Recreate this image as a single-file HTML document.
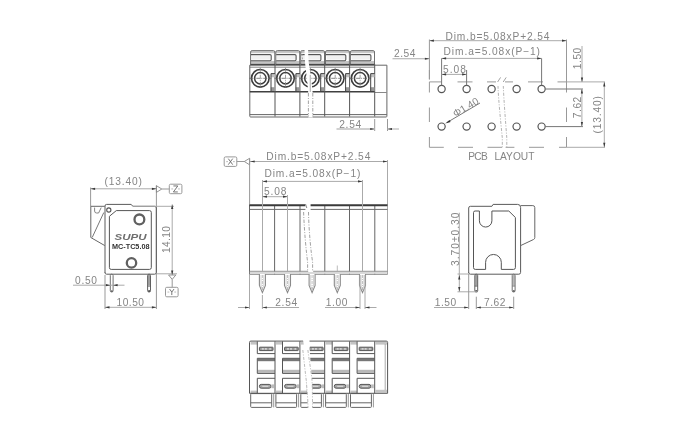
<!DOCTYPE html>
<html><head><meta charset="utf-8"><style>
html,body{margin:0;padding:0;background:#fff;overflow:hidden;}
svg{display:block;will-change:transform;}
text{font-family:"Liberation Sans",sans-serif;}
</style></head><body>
<svg width="680" height="440" viewBox="0 0 680 440">
<rect x="250.8" y="51" width="24.2" height="2.2" fill="#c8c8c8"/>
<rect x="250.8" y="61" width="24.2" height="2.6" fill="#c4c4c4"/>
<rect x="251.8" y="56" width="18.5" height="3.6" fill="#f0f0f0"/>
<path d="M250.6,64.5 V52 Q250.6,50.6 252.1,50.6 H273.5 Q274.8,50.6 274.8,52 V64.5" stroke="#707070" stroke-width="1" fill="none" />
<path d="M251.0,54.6 H270.0 Q271.2,54.6 271.2,55.8 V59.6 Q271.2,60.8 270.0,60.8 H251.0" stroke="#555" stroke-width="1.1" fill="none" />
<line x1="250.3" y1="64.4" x2="275.0" y2="64.4" stroke="#404040" stroke-width="1.3" />
<rect x="276.0" y="51" width="23.9" height="2.2" fill="#c8c8c8"/>
<rect x="276.0" y="61" width="23.9" height="2.6" fill="#c4c4c4"/>
<rect x="277.0" y="56" width="18.5" height="3.6" fill="#f0f0f0"/>
<path d="M275.8,64.5 V52 Q275.8,50.6 277.3,50.6 H298.4 Q299.7,50.6 299.7,52 V64.5" stroke="#707070" stroke-width="1" fill="none" />
<path d="M276.2,54.6 H294.9 Q296.1,54.6 296.1,55.8 V59.6 Q296.1,60.8 294.9,60.8 H276.2" stroke="#555" stroke-width="1.1" fill="none" />
<line x1="275.5" y1="64.4" x2="299.9" y2="64.4" stroke="#404040" stroke-width="1.3" />
<rect x="300.9" y="51" width="23.8" height="2.2" fill="#c8c8c8"/>
<rect x="300.9" y="61" width="23.8" height="2.6" fill="#c4c4c4"/>
<rect x="301.9" y="56" width="18.5" height="3.6" fill="#f0f0f0"/>
<path d="M300.7,64.5 V52 Q300.7,50.6 302.2,50.6 H323.2 Q324.5,50.6 324.5,52 V64.5" stroke="#707070" stroke-width="1" fill="none" />
<path d="M301.1,54.6 H319.7 Q320.9,54.6 320.9,55.8 V59.6 Q320.9,60.8 319.7,60.8 H301.1" stroke="#555" stroke-width="1.1" fill="none" />
<line x1="300.4" y1="64.4" x2="324.7" y2="64.4" stroke="#404040" stroke-width="1.3" />
<rect x="325.7" y="51" width="23.9" height="2.2" fill="#c8c8c8"/>
<rect x="325.7" y="61" width="23.9" height="2.6" fill="#c4c4c4"/>
<rect x="326.7" y="56" width="18.5" height="3.6" fill="#f0f0f0"/>
<path d="M325.5,64.5 V52 Q325.5,50.6 327.0,50.6 H348.1 Q349.4,50.6 349.4,52 V64.5" stroke="#707070" stroke-width="1" fill="none" />
<path d="M325.9,54.6 H344.6 Q345.8,54.6 345.8,55.8 V59.6 Q345.8,60.8 344.6,60.8 H325.9" stroke="#555" stroke-width="1.1" fill="none" />
<line x1="325.2" y1="64.4" x2="349.6" y2="64.4" stroke="#404040" stroke-width="1.3" />
<rect x="350.6" y="51" width="24.1" height="2.2" fill="#c8c8c8"/>
<rect x="350.6" y="61" width="24.1" height="2.6" fill="#c4c4c4"/>
<rect x="351.6" y="56" width="18.5" height="3.6" fill="#f0f0f0"/>
<path d="M350.4,64.5 V52 Q350.4,50.6 351.9,50.6 H373.2 Q374.5,50.6 374.5,52 V64.5" stroke="#707070" stroke-width="1" fill="none" />
<path d="M350.8,54.6 H369.7 Q370.9,54.6 370.9,55.8 V59.6 Q370.9,60.8 369.7,60.8 H350.8" stroke="#555" stroke-width="1.1" fill="none" />
<line x1="350.1" y1="64.4" x2="374.7" y2="64.4" stroke="#404040" stroke-width="1.3" />
<path d="M249.8,92 V65.2 H374.7" stroke="#5a5a5a" stroke-width="1" fill="none" />
<path d="M374.7,65.2 H386.9 V116.2 Q386.9,117 386.1,117 H250.6 Q249.8,117 249.8,116.2 V92" stroke="#666" stroke-width="1" fill="none" />
<line x1="249.8" y1="67.2" x2="374.7" y2="67.2" stroke="#777" stroke-width="0.9" />
<line x1="249.8" y1="91.8" x2="374.7" y2="91.8" stroke="#404040" stroke-width="1.4" />
<line x1="374.7" y1="92.5" x2="386.9" y2="92.5" stroke="#888" stroke-width="1" />
<line x1="249.8" y1="114.6" x2="386.9" y2="114.6" stroke="#666" stroke-width="1" />
<line x1="275.0" y1="64.4" x2="275.0" y2="116.5" stroke="#555" stroke-width="1" />
<line x1="299.9" y1="64.4" x2="299.9" y2="116.5" stroke="#555" stroke-width="1" />
<line x1="324.7" y1="64.4" x2="324.7" y2="116.5" stroke="#555" stroke-width="1" />
<line x1="349.6" y1="64.4" x2="349.6" y2="116.5" stroke="#555" stroke-width="1" />
<line x1="374.7" y1="64.4" x2="374.7" y2="116.5" stroke="#555" stroke-width="1" />
<circle cx="260.3" cy="78.3" r="8.8" stroke="#3c3c3c" stroke-width="1.6" fill="none" />
<circle cx="260.3" cy="78.3" r="5.7" stroke="#3c3c3c" stroke-width="1.5" fill="none" />
<line x1="249.3" y1="78.3" x2="271.3" y2="78.3" stroke="#666" stroke-width="0.8" stroke-dasharray="4 1 1 1"/>
<line x1="260.3" y1="67.8" x2="260.3" y2="88.8" stroke="#888" stroke-width="0.8" stroke-dasharray="4 1 1 1"/>
<rect x="270.8" y="73.8" width="4" height="3.5" fill="#c0c0c0"/>
<rect x="270.8" y="87.2" width="4" height="3.8" fill="#999"/>
<path d="M275.0,73.6 H271.0 V91.5" stroke="#444" stroke-width="1" fill="none" />
<circle cx="285.5" cy="78.3" r="8.8" stroke="#3c3c3c" stroke-width="1.6" fill="none" />
<circle cx="285.5" cy="78.3" r="5.7" stroke="#3c3c3c" stroke-width="1.5" fill="none" />
<line x1="274.5" y1="78.3" x2="296.5" y2="78.3" stroke="#666" stroke-width="0.8" stroke-dasharray="4 1 1 1"/>
<line x1="285.5" y1="67.8" x2="285.5" y2="88.8" stroke="#888" stroke-width="0.8" stroke-dasharray="4 1 1 1"/>
<rect x="295.7" y="73.8" width="4" height="3.5" fill="#c0c0c0"/>
<rect x="295.7" y="87.2" width="4" height="3.8" fill="#999"/>
<path d="M299.9,73.6 H295.9 V91.5" stroke="#444" stroke-width="1" fill="none" />
<circle cx="310.4" cy="78.3" r="8.8" stroke="#3c3c3c" stroke-width="1.6" fill="none" />
<circle cx="310.4" cy="78.3" r="5.7" stroke="#3c3c3c" stroke-width="1.5" fill="none" />
<line x1="299.4" y1="78.3" x2="321.4" y2="78.3" stroke="#666" stroke-width="0.8" stroke-dasharray="4 1 1 1"/>
<line x1="310.4" y1="67.8" x2="310.4" y2="88.8" stroke="#888" stroke-width="0.8" stroke-dasharray="4 1 1 1"/>
<rect x="320.5" y="73.8" width="4" height="3.5" fill="#c0c0c0"/>
<rect x="320.5" y="87.2" width="4" height="3.8" fill="#999"/>
<path d="M324.7,73.6 H320.7 V91.5" stroke="#444" stroke-width="1" fill="none" />
<circle cx="335.2" cy="78.3" r="8.8" stroke="#3c3c3c" stroke-width="1.6" fill="none" />
<circle cx="335.2" cy="78.3" r="5.7" stroke="#3c3c3c" stroke-width="1.5" fill="none" />
<line x1="324.2" y1="78.3" x2="346.2" y2="78.3" stroke="#666" stroke-width="0.8" stroke-dasharray="4 1 1 1"/>
<line x1="335.2" y1="67.8" x2="335.2" y2="88.8" stroke="#888" stroke-width="0.8" stroke-dasharray="4 1 1 1"/>
<rect x="345.4" y="73.8" width="4" height="3.5" fill="#c0c0c0"/>
<rect x="345.4" y="87.2" width="4" height="3.8" fill="#999"/>
<path d="M349.6,73.6 H345.6 V91.5" stroke="#444" stroke-width="1" fill="none" />
<circle cx="360.1" cy="78.3" r="8.8" stroke="#3c3c3c" stroke-width="1.6" fill="none" />
<circle cx="360.1" cy="78.3" r="5.7" stroke="#3c3c3c" stroke-width="1.5" fill="none" />
<line x1="349.1" y1="78.3" x2="371.1" y2="78.3" stroke="#666" stroke-width="0.8" stroke-dasharray="4 1 1 1"/>
<line x1="360.1" y1="67.8" x2="360.1" y2="88.8" stroke="#888" stroke-width="0.8" stroke-dasharray="4 1 1 1"/>
<rect x="370.5" y="73.8" width="4" height="3.5" fill="#c0c0c0"/>
<rect x="370.5" y="87.2" width="4" height="3.8" fill="#999"/>
<path d="M374.7,73.6 H370.7 V91.5" stroke="#444" stroke-width="1" fill="none" />
<path d="M304.5,49 C304.7,56 304.9,62 305.4,66 C306.2,74 307.8,84 308.2,92 L308.2,117.5 L312.8,117.5 L312.6,92 C312,84 310.6,74 309.2,66 C308.6,62 308.2,56 308.1,49 Z" stroke="none" stroke-width="0" fill="#fff" />
<path d="M301.5,51 L303,63" stroke="#aaa" stroke-width="1" fill="none" stroke-dasharray="2 1.2"/>
<path d="M308.4,93 V116.5" stroke="#999" stroke-width="0.9" fill="none" stroke-dasharray="3.5 1.5 1 1.5"/>
<path d="M312.8,93 V116.5" stroke="#999" stroke-width="0.9" fill="none" stroke-dasharray="3.5 1.5 1 1.5"/>
<line x1="310.3" y1="75" x2="310.3" y2="92" stroke="#bbb" stroke-width="1.2" />
<line x1="374.7" y1="119" x2="374.7" y2="131" stroke="#999" stroke-width="1" />
<line x1="387.5" y1="119" x2="387.5" y2="131" stroke="#999" stroke-width="1" />
<line x1="336.5" y1="129" x2="374.7" y2="129" stroke="#c0c0c0" stroke-width="1.3" />
<path d="M374.7,129 L370.2,127.9 L370.2,130.1 Z" fill="#3a3a3a"/>
<line x1="387.5" y1="129" x2="399" y2="129" stroke="#c0c0c0" stroke-width="1.3" />
<path d="M387.5,129 L392.0,127.9 L392.0,130.1 Z" fill="#3a3a3a"/>
<text x="339.2" y="127.6" font-size="10.2" fill="#858585" textLength="22" lengthAdjust="spacing" >2.54</text>
<circle cx="441.6" cy="89" r="3.6" stroke="#555" stroke-width="1.2" fill="none" />
<circle cx="466.6" cy="89" r="3.6" stroke="#555" stroke-width="1.2" fill="none" />
<circle cx="491.6" cy="89" r="3.6" stroke="#555" stroke-width="1.2" fill="none" />
<circle cx="516.6" cy="89" r="3.6" stroke="#555" stroke-width="1.2" fill="none" />
<circle cx="541.6" cy="89" r="3.6" stroke="#555" stroke-width="1.2" fill="none" />
<circle cx="441.6" cy="126.6" r="3.6" stroke="#555" stroke-width="1.2" fill="none" />
<circle cx="466.6" cy="126.6" r="3.6" stroke="#555" stroke-width="1.2" fill="none" />
<circle cx="491.6" cy="126.6" r="3.6" stroke="#555" stroke-width="1.2" fill="none" />
<circle cx="516.6" cy="126.6" r="3.6" stroke="#555" stroke-width="1.2" fill="none" />
<circle cx="541.6" cy="126.6" r="3.6" stroke="#555" stroke-width="1.2" fill="none" />
<line x1="429.4" y1="81.9" x2="441.6" y2="81.9" stroke="#999" stroke-width="1" />
<line x1="457.5" y1="81.9" x2="472.5" y2="81.9" stroke="#999" stroke-width="1" />
<line x1="487" y1="81.9" x2="496" y2="81.9" stroke="#999" stroke-width="1" />
<line x1="505" y1="81.9" x2="513" y2="81.9" stroke="#999" stroke-width="1" />
<line x1="528" y1="81.9" x2="543" y2="81.9" stroke="#999" stroke-width="1" />
<line x1="557.5" y1="81.9" x2="566.5" y2="81.9" stroke="#999" stroke-width="1" />
<line x1="566.5" y1="81.9" x2="605" y2="81.9" stroke="#aaa" stroke-width="1" />
<line x1="429.4" y1="147.3" x2="443.8" y2="147.3" stroke="#999" stroke-width="1" />
<line x1="458" y1="147.3" x2="473" y2="147.3" stroke="#999" stroke-width="1" />
<line x1="487.5" y1="147.3" x2="502" y2="147.3" stroke="#999" stroke-width="1" />
<line x1="505.6" y1="147.3" x2="514.4" y2="147.3" stroke="#999" stroke-width="1" />
<line x1="529" y1="147.3" x2="544" y2="147.3" stroke="#999" stroke-width="1" />
<line x1="559" y1="147.3" x2="566.5" y2="147.3" stroke="#999" stroke-width="1" />
<line x1="566.5" y1="147.3" x2="605" y2="147.3" stroke="#aaa" stroke-width="1" />
<line x1="429.4" y1="70" x2="429.4" y2="79.4" stroke="#999" stroke-width="1" />
<line x1="429.4" y1="81.9" x2="429.4" y2="92.5" stroke="#999" stroke-width="1" />
<line x1="429.4" y1="107.5" x2="429.4" y2="122" stroke="#999" stroke-width="1" />
<line x1="429.4" y1="137" x2="429.4" y2="147.3" stroke="#999" stroke-width="1" />
<line x1="429.4" y1="39.5" x2="429.4" y2="79.4" stroke="#999" stroke-width="1" />
<line x1="566.5" y1="39.5" x2="566.5" y2="92.5" stroke="#999" stroke-width="1" />
<line x1="566.5" y1="107.5" x2="566.5" y2="122" stroke="#999" stroke-width="1" />
<line x1="566.5" y1="137" x2="566.5" y2="147.3" stroke="#999" stroke-width="1" />
<path d="M497.6,82 L500.6,77.4" stroke="#999" stroke-width="0.9" fill="none" />
<path d="M503.2,82 L506.2,77.4" stroke="#999" stroke-width="0.9" fill="none" />
<path d="M498,86 C498.4,100 500.8,122 502.3,138 V147.3" stroke="#aaa" stroke-width="0.9" fill="none" stroke-dasharray="3 1.5 1 1.5"/>
<path d="M503.3,86 C503.8,100 505.6,122 506.8,138 V147.3" stroke="#aaa" stroke-width="0.9" fill="none" stroke-dasharray="3 1.5 1 1.5"/>
<line x1="392.5" y1="58.75" x2="429" y2="58.75" stroke="#aaa" stroke-width="1" />
<path d="M429.4,58.75 L424.9,57.65 L424.9,59.85 Z" fill="#3a3a3a"/>
<text x="394" y="57.4" font-size="10.2" fill="#858585" textLength="21.5" lengthAdjust="spacing" >2.54</text>
<line x1="429.4" y1="40.7" x2="566.5" y2="40.7" stroke="#aaa" stroke-width="1" />
<path d="M429.4,40.7 L433.9,39.6 L433.9,41.8 Z" fill="#3a3a3a"/>
<path d="M566.5,40.7 L562.0,39.6 L562.0,41.8 Z" fill="#3a3a3a"/>
<text x="445.5" y="39.7" font-size="10.2" fill="#858585" textLength="104" lengthAdjust="spacing" >Dim.b=5.08xP+2.54</text>
<line x1="441.6" y1="58.4" x2="541.6" y2="58.4" stroke="#aaa" stroke-width="1" />
<path d="M441.6,58.4 L446.1,57.3 L446.1,59.5 Z" fill="#3a3a3a"/>
<path d="M541.6,58.4 L537.1,57.3 L537.1,59.5 Z" fill="#3a3a3a"/>
<line x1="441.6" y1="58.4" x2="441.6" y2="85.4" stroke="#777" stroke-width="1" />
<line x1="541.6" y1="58.4" x2="541.6" y2="85.4" stroke="#777" stroke-width="1" />
<text x="443.6" y="55.2" font-size="10.2" fill="#858585" textLength="96.4" lengthAdjust="spacing" >Dim.a=5.08x(P−1)</text>
<line x1="441.6" y1="74.4" x2="466.6" y2="74.4" stroke="#aaa" stroke-width="1" />
<path d="M441.6,74.4 L446.1,73.3 L446.1,75.5 Z" fill="#3a3a3a"/>
<path d="M466.6,74.4 L462.1,73.3 L462.1,75.5 Z" fill="#3a3a3a"/>
<line x1="466.6" y1="70" x2="466.6" y2="85.4" stroke="#777" stroke-width="1" />
<text x="443" y="72.6" font-size="10.2" fill="#858585" textLength="23" lengthAdjust="spacing" >5.08</text>
<line x1="582" y1="46" x2="582" y2="81.9" stroke="#aaa" stroke-width="1" />
<path d="M582,81.9 L580.9,77.4 L583.1,77.4 Z" fill="#3a3a3a"/>
<text x="581.2" y="69.2" font-size="10.2" fill="#858585" textLength="21.5" lengthAdjust="spacing" transform="rotate(-90 581.2 69.2)" >1.50</text>
<line x1="545.2" y1="89" x2="583" y2="89" stroke="#777" stroke-width="1" />
<line x1="545.2" y1="126.6" x2="583" y2="126.6" stroke="#777" stroke-width="1" />
<line x1="581.9" y1="89" x2="581.9" y2="126.6" stroke="#aaa" stroke-width="1" />
<path d="M581.9,89 L580.8,93.5 L583.0,93.5 Z" fill="#3a3a3a"/>
<path d="M581.9,126.6 L580.8,122.1 L583.0,122.1 Z" fill="#3a3a3a"/>
<text x="581.2" y="118.2" font-size="10.2" fill="#858585" textLength="21.5" lengthAdjust="spacing" transform="rotate(-90 581.2 118.2)" >7.62</text>
<line x1="604.3" y1="81.9" x2="604.3" y2="147.3" stroke="#aaa" stroke-width="1" />
<path d="M604.3,81.9 L603.2,86.4 L605.4,86.4 Z" fill="#3a3a3a"/>
<path d="M604.3,147.3 L603.2,142.8 L605.4,142.8 Z" fill="#3a3a3a"/>
<text x="601.2" y="133.5" font-size="10.2" fill="#858585" textLength="37.5" lengthAdjust="spacing" transform="rotate(-90 601.2 133.5)" >(13.40)</text>
<line x1="480" y1="103" x2="447" y2="122.5" stroke="#555" stroke-width="0.8" />
<path d="M445.2,123.6 L449.5,120 L450.6,121.9 Z" fill="#333"/>
<text x="455.5" y="117.5" font-size="10.2" fill="#858585" textLength="28" lengthAdjust="spacing" transform="rotate(-31 455.5 117.5)" >Φ1.40</text>
<text x="468.2" y="160" font-size="10.2" fill="#858585" textLength="19.5" lengthAdjust="spacing" >PCB</text>
<text x="494.4" y="160" font-size="10.2" fill="#858585" textLength="40" lengthAdjust="spacing" >LAYOUT</text>
<rect x="224.2" y="156.9" width="12.6" height="9.5" rx="1.3" stroke="#999" stroke-width="1" fill="none" />
<line x1="226.2" y1="161.65" x2="228.0" y2="161.65" stroke="#aaa" stroke-width="0.8" />
<line x1="233.0" y1="161.65" x2="234.8" y2="161.65" stroke="#aaa" stroke-width="0.8" />
<path d="M228.3,158.65 L232.7,164.65 M232.7,158.65 L228.3,164.65" stroke="#666" stroke-width="0.9" fill="none" />
<line x1="236.8" y1="161.5" x2="244.3" y2="161.5" stroke="#999" stroke-width="1" />
<path d="M244.3,161.5 L249.6,158.3 L249.6,164.8 Z" stroke="#888" stroke-width="0.9" fill="none" />
<line x1="249.6" y1="158.3" x2="249.6" y2="205" stroke="#999" stroke-width="1" />
<line x1="249.5" y1="205" x2="249.5" y2="274.5" stroke="#666" stroke-width="1" />
<line x1="249.5" y1="275" x2="249.5" y2="309" stroke="#aaa" stroke-width="1" />
<line x1="387.5" y1="160" x2="387.5" y2="274.5" stroke="#aaa" stroke-width="1" />
<line x1="300" y1="205" x2="300" y2="274.5" stroke="#666" stroke-width="1" />
<line x1="324.8" y1="205" x2="324.8" y2="274.5" stroke="#666" stroke-width="1" />
<line x1="349.5" y1="205" x2="349.5" y2="274.5" stroke="#666" stroke-width="1" />
<line x1="374.8" y1="205" x2="374.8" y2="274.5" stroke="#666" stroke-width="1" />
<line x1="274.6" y1="205" x2="274.6" y2="274.5" stroke="#666" stroke-width="1" />
<line x1="249.5" y1="205.3" x2="387.5" y2="205.3" stroke="#3a3a3a" stroke-width="2" />
<line x1="249.5" y1="209.4" x2="387.5" y2="209.4" stroke="#6a6a6a" stroke-width="1" />
<line x1="249.5" y1="271.3" x2="387.5" y2="271.3" stroke="#888" stroke-width="1" />
<line x1="249.5" y1="274.3" x2="387.5" y2="274.3" stroke="#888" stroke-width="1" />
<line x1="250" y1="161.5" x2="387.5" y2="161.5" stroke="#aaa" stroke-width="1" />
<path d="M250.2,161.5 L254.7,160.4 L254.7,162.6 Z" fill="#3a3a3a"/>
<path d="M387.5,161.5 L383.0,160.4 L383.0,162.6 Z" fill="#3a3a3a"/>
<text x="266.3" y="160.4" font-size="10.2" fill="#858585" textLength="104" lengthAdjust="spacing" >Dim.b=5.08xP+2.54</text>
<line x1="262.5" y1="181.4" x2="362.5" y2="181.4" stroke="#aaa" stroke-width="1" />
<path d="M262.5,181.4 L267.0,180.3 L267.0,182.5 Z" fill="#3a3a3a"/>
<path d="M362.5,181.4 L358.0,180.3 L358.0,182.5 Z" fill="#3a3a3a"/>
<line x1="262.5" y1="180" x2="262.5" y2="271" stroke="#aaa" stroke-width="1" />
<line x1="362.5" y1="180" x2="362.5" y2="271" stroke="#aaa" stroke-width="1" />
<text x="264.4" y="177.4" font-size="10.2" fill="#858585" textLength="96" lengthAdjust="spacing" >Dim.a=5.08x(P−1)</text>
<line x1="262.5" y1="196.7" x2="287.5" y2="196.7" stroke="#aaa" stroke-width="1" />
<path d="M262.5,196.7 L267.0,195.6 L267.0,197.8 Z" fill="#3a3a3a"/>
<path d="M287.5,196.7 L283.0,195.6 L283.0,197.8 Z" fill="#3a3a3a"/>
<line x1="287.5" y1="195" x2="287.5" y2="271" stroke="#aaa" stroke-width="1" />
<text x="264" y="195" font-size="10.2" fill="#858585" textLength="22.5" lengthAdjust="spacing" >5.08</text>
<rect x="249.8" y="271.8" width="137.1" height="2.0" fill="#d8d8d8"/>
<path d="M305.3,203.5 C305.5,225 306.5,248 308.2,272 L313.2,272 C311.8,248 310.4,225 310.6,203.5 Z" stroke="none" stroke-width="0" fill="#fff" />
<path d="M305.5,204 L306.8,208" stroke="#888" stroke-width="1" fill="none" />
<path d="M303.6,212 C304.3,232 306.3,252 307.6,262 L307.6,271" stroke="#999" stroke-width="0.9" fill="none" stroke-dasharray="3.5 1.5 1 1.5"/>
<path d="M308.5,212 C308.9,232 311,252 312.6,262 L312.6,271" stroke="#999" stroke-width="0.9" fill="none" stroke-dasharray="3.5 1.5 1 1.5"/>
<path d="M259.4,274 V285.5 L262.4,292.6 L265.4,285.5 V274" stroke="#8a8a8a" stroke-width="1.1" fill="#fff" />
<path d="M261.0,275 V286 L262.4,289.5 L263.8,286 V275" stroke="#c8c8c8" stroke-width="0.8" fill="none" />
<line x1="262.4" y1="275" x2="262.4" y2="291" stroke="#aaa" stroke-width="0.7" stroke-dasharray="3 1 1 1"/>
<path d="M284.5,274 V285.5 L287.5,292.6 L290.5,285.5 V274" stroke="#8a8a8a" stroke-width="1.1" fill="#fff" />
<path d="M286.1,275 V286 L287.5,289.5 L288.9,286 V275" stroke="#c8c8c8" stroke-width="0.8" fill="none" />
<line x1="287.5" y1="275" x2="287.5" y2="291" stroke="#aaa" stroke-width="0.7" stroke-dasharray="3 1 1 1"/>
<path d="M309.1,274 V285.5 L312.1,292.6 L315.1,285.5 V274" stroke="#8a8a8a" stroke-width="1.1" fill="#fff" />
<path d="M310.7,275 V286 L312.1,289.5 L313.5,286 V275" stroke="#c8c8c8" stroke-width="0.8" fill="none" />
<line x1="312.1" y1="275" x2="312.1" y2="291" stroke="#aaa" stroke-width="0.7" stroke-dasharray="3 1 1 1"/>
<path d="M334.3,274 V285.5 L337.3,292.6 L340.3,285.5 V274" stroke="#8a8a8a" stroke-width="1.1" fill="#fff" />
<path d="M335.9,275 V286 L337.3,289.5 L338.7,286 V275" stroke="#c8c8c8" stroke-width="0.8" fill="none" />
<line x1="337.3" y1="275" x2="337.3" y2="291" stroke="#aaa" stroke-width="0.7" stroke-dasharray="3 1 1 1"/>
<path d="M359.5,274 V285.5 L362.5,292.6 L365.5,285.5 V274" stroke="#8a8a8a" stroke-width="1.1" fill="#fff" />
<path d="M361.1,275 V286 L362.5,289.5 L363.9,286 V275" stroke="#c8c8c8" stroke-width="0.8" fill="none" />
<line x1="362.5" y1="275" x2="362.5" y2="291" stroke="#aaa" stroke-width="0.7" stroke-dasharray="3 1 1 1"/>
<line x1="337.3" y1="265.5" x2="337.3" y2="271" stroke="#aaa" stroke-width="0.8" />
<line x1="238" y1="307.5" x2="249.5" y2="307.5" stroke="#aaa" stroke-width="1" />
<path d="M249.5,307.5 L245.0,306.4 L245.0,308.6 Z" fill="#3a3a3a"/>
<line x1="262.4" y1="295" x2="262.4" y2="309" stroke="#aaa" stroke-width="1" />
<line x1="262.4" y1="307.5" x2="299" y2="307.5" stroke="#aaa" stroke-width="1" />
<path d="M262.4,307.5 L266.9,306.4 L266.9,308.6 Z" fill="#3a3a3a"/>
<text x="275.2" y="306.3" font-size="10.2" fill="#858585" textLength="22" lengthAdjust="spacing" >2.54</text>
<line x1="360" y1="275" x2="360" y2="309" stroke="#aaa" stroke-width="1" />
<line x1="365" y1="275" x2="365" y2="309" stroke="#aaa" stroke-width="1" />
<line x1="325" y1="307.5" x2="360" y2="307.5" stroke="#aaa" stroke-width="1" />
<path d="M360,307.5 L355.5,306.4 L355.5,308.6 Z" fill="#3a3a3a"/>
<line x1="365" y1="307.5" x2="376.5" y2="307.5" stroke="#aaa" stroke-width="1" />
<path d="M365,307.5 L369.5,306.4 L369.5,308.6 Z" fill="#3a3a3a"/>
<text x="325.8" y="306.3" font-size="10.2" fill="#858585" textLength="21.5" lengthAdjust="spacing" >1.00</text>
<line x1="90.6" y1="187.5" x2="90.6" y2="206.3" stroke="#999" stroke-width="1" />
<line x1="156.4" y1="185.5" x2="156.4" y2="309" stroke="#999" stroke-width="1" />
<line x1="90.6" y1="188.8" x2="156.4" y2="188.8" stroke="#aaa" stroke-width="1" />
<path d="M90.6,188.8 L95.1,187.7 L95.1,189.9 Z" fill="#3a3a3a"/>
<path d="M156.4,188.8 L151.9,187.7 L151.9,189.9 Z" fill="#3a3a3a"/>
<text x="104.5" y="185.2" font-size="10.2" fill="#858585" textLength="37.5" lengthAdjust="spacing" >(13.40)</text>
<path d="M156.4,185.7 L161.8,189 L156.4,192.4 Z" stroke="#888" stroke-width="0.9" fill="none" />
<line x1="161.8" y1="189" x2="169.3" y2="189" stroke="#999" stroke-width="1" />
<rect x="169.3" y="184.2" width="12.6" height="9.5" rx="1.3" stroke="#999" stroke-width="1" fill="none" />
<line x1="171.3" y1="188.95" x2="173.1" y2="188.95" stroke="#aaa" stroke-width="0.8" />
<line x1="178.1" y1="188.95" x2="179.9" y2="188.95" stroke="#aaa" stroke-width="0.8" />
<path d="M173.4,185.95 H177.8 L173.4,191.95 H177.8" stroke="#666" stroke-width="0.9" fill="none" />
<path d="M105,273 V206 Q105,204.4 106.6,204.4 H131.2 L132.8,206.3 H154.6 Q156.3,206.3 156.3,208 V272.4 Q156.3,274.2 154.6,274.2 H106.6 Q105,274.2 105,272.4" stroke="#5a5a5a" stroke-width="1" fill="none" />
<line x1="133" y1="206.3" x2="174" y2="206.3" stroke="#aaa" stroke-width="1" />
<line x1="156.4" y1="273.8" x2="177" y2="273.8" stroke="#aaa" stroke-width="1" />
<path d="M104.8,206.3 H90.8 V237.5 L104.8,245.6" stroke="#666" stroke-width="1" fill="none" />
<path d="M103.8,212.5 L92.2,237.5" stroke="#777" stroke-width="1" fill="none" />
<path d="M94.6,207.6 V211 Q94.6,213 96.6,213 H98.6 L101.2,207.6" stroke="#777" stroke-width="0.9" fill="none" />
<circle cx="108.8" cy="210" r="2.1" stroke="#555" stroke-width="1.1" fill="none" />
<path d="M109.4,216.3 L116.3,210.6 H149.5 Q151.3,210.6 151.3,212.4 V267.6 Q151.3,269.4 149.5,269.4 H111.2 Q109.4,269.4 109.4,267.6 Z" stroke="#555" stroke-width="1" fill="none" />
<circle cx="139.4" cy="219.4" r="4.9" stroke="#606060" stroke-width="2.3" fill="none" />
<circle cx="131.5" cy="262.9" r="4.7" stroke="#606060" stroke-width="2.3" fill="none" />
<text x="114.5" y="240" font-size="8.6" font-weight="bold" font-style="italic" fill="#6e6e6e" textLength="32" lengthAdjust="spacingAndGlyphs" transform="translate(0,0)">SUPU</text>
<text x="112" y="249" font-size="7.6" font-weight="bold" fill="#333" textLength="37.5" lengthAdjust="spacingAndGlyphs">MC-TC5.08</text>
<rect x="110.3" y="274.2" width="2.8" height="17.8" rx="1.3" stroke="#707070" stroke-width="1" fill="none" />
<rect x="147.8" y="274.6" width="2.4" height="10.4" fill="#a0a0a0"/>
<rect x="147.6" y="274.2" width="2.9" height="17.8" rx="1.3" stroke="#606060" stroke-width="1" fill="none" />
<line x1="147.6" y1="286" x2="150.5" y2="286" stroke="#555" stroke-width="1" />
<rect x="148.2" y="290.2" width="2" height="1.6" fill="#444"/>
<rect x="110.8" y="290.4" width="1.9" height="1.4" fill="#555"/>
<line x1="73" y1="285.2" x2="124.5" y2="285.2" stroke="#aaa" stroke-width="1" />
<path d="M110.3,285.2 L105.8,284.1 L105.8,286.3 Z" fill="#3a3a3a"/>
<path d="M113.1,285.2 L117.6,284.1 L117.6,286.3 Z" fill="#3a3a3a"/>
<text x="75" y="283.6" font-size="10.2" fill="#858585" textLength="22" lengthAdjust="spacing" >0.50</text>
<line x1="105" y1="275" x2="105" y2="309" stroke="#999" stroke-width="1" />
<line x1="105" y1="307.3" x2="156.4" y2="307.3" stroke="#aaa" stroke-width="1" />
<path d="M105,307.3 L109.5,306.2 L109.5,308.4 Z" fill="#3a3a3a"/>
<path d="M156.4,307.3 L151.9,306.2 L151.9,308.4 Z" fill="#3a3a3a"/>
<text x="116.5" y="306" font-size="10.2" fill="#858585" textLength="27.5" lengthAdjust="spacing" >10.50</text>
<line x1="172.2" y1="204.4" x2="172.2" y2="275" stroke="#aaa" stroke-width="1" />
<path d="M172.2,204.6 L171.1,209.1 L173.3,209.1 Z" fill="#3a3a3a"/>
<path d="M172.2,275 L171.1,270.5 L173.3,270.5 Z" fill="#3a3a3a"/>
<text x="170.2" y="253" font-size="10.2" fill="#858585" textLength="27" lengthAdjust="spacing" transform="rotate(-90 170.2 253)" >14.10</text>
<path d="M168.6,275 L175.8,275 L172.2,279.4 Z" stroke="#888" stroke-width="0.9" fill="none" />
<line x1="172.2" y1="279.4" x2="172.2" y2="287.3" stroke="#999" stroke-width="1" />
<rect x="165.5" y="287.3" width="12.6" height="9.5" rx="1.3" stroke="#999" stroke-width="1" fill="none" />
<line x1="167.5" y1="292.05" x2="169.3" y2="292.05" stroke="#aaa" stroke-width="0.8" />
<line x1="174.3" y1="292.05" x2="176.1" y2="292.05" stroke="#aaa" stroke-width="0.8" />
<path d="M169.6,289.05 L171.8,292.05 L174.0,289.05 M171.8,292.05 V295.05" stroke="#666" stroke-width="0.9" fill="none" />
<path d="M468.7,273 V208 Q468.7,206.3 470.4,206.3 H491.9 L493.1,204.4 H517.6 Q520.6,204.4 520.6,207.4 V272.4 Q520.6,274.2 518.8,274.2 H470.4 Q468.7,274.2 468.7,272.4" stroke="#5a5a5a" stroke-width="1" fill="none" />
<path d="M520.6,205.6 H532.8 Q534.8,205.6 534.8,207.6 V237.6 Q534.8,239 533.5,239.5 L520.6,245.6" stroke="#666" stroke-width="1" fill="none" />
<path d="M473.5,267.6 V212.6 Q473.5,211 475.1,211 H479.4 V220.8 A6.25,6.25 0 0 0 491.9,220.8 V211 H508.8 L515.4,217.5 V267.6 Q515.4,269.4 513.6,269.4 H501.3 V262.3 A7.85,7.85 0 0 0 485.6,262.3 V269.4 H475.3 Q473.5,269.4 473.5,267.6 Z" stroke="#555" stroke-width="1" fill="none" />
<rect x="475.2" y="274.6" width="2.4" height="10.8" fill="#a0a0a0"/>
<rect x="474.8" y="274.2" width="2.9" height="17.8" rx="1.3" stroke="#606060" stroke-width="1" fill="none" />
<line x1="474.8" y1="286" x2="477.7" y2="286" stroke="#555" stroke-width="1" />
<rect x="475.3" y="290.2" width="2" height="1.6" fill="#444"/>
<rect x="512.6" y="274.6" width="2.2" height="10.8" fill="#b8b8b8"/>
<rect x="512.2" y="274.2" width="2.9" height="17.8" rx="1.3" stroke="#707070" stroke-width="1" fill="none" />
<line x1="512.2" y1="286" x2="515.1" y2="286" stroke="#777" stroke-width="1" />
<rect x="512.7" y="290.2" width="2" height="1.6" fill="#555"/>
<line x1="457.5" y1="274" x2="468.7" y2="274" stroke="#aaa" stroke-width="1" />
<line x1="457.5" y1="291.8" x2="477.5" y2="291.8" stroke="#aaa" stroke-width="1" />
<line x1="459.3" y1="212.7" x2="459.3" y2="291.8" stroke="#aaa" stroke-width="1" />
<path d="M459.3,275 L458.2,279.5 L460.4,279.5 Z" fill="#3a3a3a"/>
<path d="M459.3,291.5 L458.2,287.0 L460.4,287.0 Z" fill="#3a3a3a"/>
<text x="458.6" y="266" font-size="10.2" fill="#858585" textLength="53.5" lengthAdjust="spacing" transform="rotate(-90 458.6 266)" >3.70±0.30</text>
<line x1="468.7" y1="274" x2="468.7" y2="309" stroke="#999" stroke-width="1" />
<line x1="434" y1="307.5" x2="468.7" y2="307.5" stroke="#aaa" stroke-width="1" />
<path d="M468.7,307.5 L464.2,306.4 L464.2,308.6 Z" fill="#3a3a3a"/>
<text x="434.7" y="306.2" font-size="10.2" fill="#858585" textLength="21.5" lengthAdjust="spacing" >1.50</text>
<line x1="476.3" y1="296.7" x2="476.3" y2="309" stroke="#999" stroke-width="1" />
<line x1="513.7" y1="296.7" x2="513.7" y2="309" stroke="#999" stroke-width="1" />
<line x1="476.3" y1="307.5" x2="513.7" y2="307.5" stroke="#aaa" stroke-width="1" />
<path d="M476.3,307.5 L480.8,306.4 L480.8,308.6 Z" fill="#3a3a3a"/>
<path d="M513.7,307.5 L509.2,306.4 L509.2,308.6 Z" fill="#3a3a3a"/>
<text x="484" y="306.2" font-size="10.2" fill="#858585" textLength="21.5" lengthAdjust="spacing" >7.62</text>
<rect x="250.6" y="342" width="6.6" height="2.6" fill="#c4c4c4"/>
<rect x="250.6" y="390.6" width="6.6" height="2.6" fill="#c4c4c4"/>
<rect x="257.6" y="358.6" width="17.4" height="2.6" fill="#777"/>
<rect x="257.6" y="369.8" width="17.4" height="3.0" fill="#b8b8b8"/>
<path d="M257.3,341.3 V353.6 H275.0" stroke="#555" stroke-width="1" fill="none" />
<path d="M275.0,358.3 H257.3 V373.4 H275.0" stroke="#555" stroke-width="1" fill="none" />
<path d="M275.0,378.3 H257.3 V393" stroke="#555" stroke-width="1" fill="none" />
<rect x="259.4" y="347.2" width="13.6" height="3.4" rx="0.4" stroke="#555" stroke-width="1" fill="#9a9a9a" />
<rect x="261.8" y="348.2" width="2" height="1.4" fill="#ddd"/>
<rect x="264.8" y="348.2" width="2" height="1.4" fill="#ddd"/>
<rect x="269.3" y="348.2" width="1.6" height="1.4" fill="#ddd"/>
<rect x="259.4" y="384.4" width="11.6" height="3.8" rx="1.8" stroke="#555" stroke-width="1" fill="#a8a8a8" />
<rect x="262.3" y="385.8" width="6" height="1" fill="#e0e0e0"/>
<rect x="271.4" y="384.4" width="2.6" height="3.8" fill="#bbb"/>
<line x1="275.0" y1="341.3" x2="275.0" y2="393.3" stroke="#555" stroke-width="1" />
<rect x="250.7" y="393.6" width="21" height="13.8" rx="0.8" stroke="#666" stroke-width="1" fill="none" />
<line x1="250.7" y1="402.8" x2="271.7" y2="402.8" stroke="#666" stroke-width="1" />
<line x1="273.7" y1="393.6" x2="273.7" y2="407.4" stroke="#999" stroke-width="1" />
<rect x="275.8" y="342" width="6.6" height="2.6" fill="#c4c4c4"/>
<rect x="275.8" y="390.6" width="6.6" height="2.6" fill="#c4c4c4"/>
<rect x="282.8" y="358.6" width="17.1" height="2.6" fill="#777"/>
<rect x="282.8" y="369.8" width="17.1" height="3.0" fill="#b8b8b8"/>
<path d="M282.5,341.3 V353.6 H299.9" stroke="#555" stroke-width="1" fill="none" />
<path d="M299.9,358.3 H282.5 V373.4 H299.9" stroke="#555" stroke-width="1" fill="none" />
<path d="M299.9,378.3 H282.5 V393" stroke="#555" stroke-width="1" fill="none" />
<rect x="284.6" y="347.2" width="13.6" height="3.4" rx="0.4" stroke="#555" stroke-width="1" fill="#9a9a9a" />
<rect x="287.0" y="348.2" width="2" height="1.4" fill="#ddd"/>
<rect x="290.0" y="348.2" width="2" height="1.4" fill="#ddd"/>
<rect x="294.5" y="348.2" width="1.6" height="1.4" fill="#ddd"/>
<rect x="284.6" y="384.4" width="11.6" height="3.8" rx="1.8" stroke="#555" stroke-width="1" fill="#a8a8a8" />
<rect x="287.5" y="385.8" width="6" height="1" fill="#e0e0e0"/>
<rect x="296.6" y="384.4" width="2.6" height="3.8" fill="#bbb"/>
<line x1="299.9" y1="341.3" x2="299.9" y2="393.3" stroke="#555" stroke-width="1" />
<rect x="275.9" y="393.6" width="20.7" height="13.8" rx="0.8" stroke="#666" stroke-width="1" fill="none" />
<line x1="275.9" y1="402.8" x2="296.6" y2="402.8" stroke="#666" stroke-width="1" />
<line x1="298.6" y1="393.6" x2="298.6" y2="407.4" stroke="#999" stroke-width="1" />
<rect x="300.7" y="342" width="6.6" height="2.6" fill="#c4c4c4"/>
<rect x="300.7" y="390.6" width="6.6" height="2.6" fill="#c4c4c4"/>
<rect x="307.7" y="358.6" width="17" height="2.6" fill="#777"/>
<rect x="307.7" y="369.8" width="17" height="3.0" fill="#b8b8b8"/>
<path d="M307.4,341.3 V353.6 H324.7" stroke="#555" stroke-width="1" fill="none" />
<path d="M324.7,358.3 H307.4 V373.4 H324.7" stroke="#555" stroke-width="1" fill="none" />
<path d="M324.7,378.3 H307.4 V393" stroke="#555" stroke-width="1" fill="none" />
<rect x="309.5" y="347.2" width="13.6" height="3.4" rx="0.4" stroke="#555" stroke-width="1" fill="#9a9a9a" />
<rect x="311.9" y="348.2" width="2" height="1.4" fill="#ddd"/>
<rect x="314.9" y="348.2" width="2" height="1.4" fill="#ddd"/>
<rect x="319.4" y="348.2" width="1.6" height="1.4" fill="#ddd"/>
<rect x="309.5" y="384.4" width="11.6" height="3.8" rx="1.8" stroke="#555" stroke-width="1" fill="#a8a8a8" />
<rect x="312.4" y="385.8" width="6" height="1" fill="#e0e0e0"/>
<rect x="321.5" y="384.4" width="2.6" height="3.8" fill="#bbb"/>
<line x1="324.7" y1="341.3" x2="324.7" y2="393.3" stroke="#555" stroke-width="1" />
<rect x="300.8" y="393.6" width="20.6" height="13.8" rx="0.8" stroke="#666" stroke-width="1" fill="none" />
<line x1="300.8" y1="402.8" x2="321.4" y2="402.8" stroke="#666" stroke-width="1" />
<line x1="323.4" y1="393.6" x2="323.4" y2="407.4" stroke="#999" stroke-width="1" />
<rect x="325.5" y="342" width="6.6" height="2.6" fill="#c4c4c4"/>
<rect x="325.5" y="390.6" width="6.6" height="2.6" fill="#c4c4c4"/>
<rect x="332.5" y="358.6" width="17.1" height="2.6" fill="#777"/>
<rect x="332.5" y="369.8" width="17.1" height="3.0" fill="#b8b8b8"/>
<path d="M332.2,341.3 V353.6 H349.6" stroke="#555" stroke-width="1" fill="none" />
<path d="M349.6,358.3 H332.2 V373.4 H349.6" stroke="#555" stroke-width="1" fill="none" />
<path d="M349.6,378.3 H332.2 V393" stroke="#555" stroke-width="1" fill="none" />
<rect x="334.3" y="347.2" width="13.6" height="3.4" rx="0.4" stroke="#555" stroke-width="1" fill="#9a9a9a" />
<rect x="336.7" y="348.2" width="2" height="1.4" fill="#ddd"/>
<rect x="339.7" y="348.2" width="2" height="1.4" fill="#ddd"/>
<rect x="344.2" y="348.2" width="1.6" height="1.4" fill="#ddd"/>
<rect x="334.3" y="384.4" width="11.6" height="3.8" rx="1.8" stroke="#555" stroke-width="1" fill="#a8a8a8" />
<rect x="337.2" y="385.8" width="6" height="1" fill="#e0e0e0"/>
<rect x="346.3" y="384.4" width="2.6" height="3.8" fill="#bbb"/>
<line x1="349.6" y1="341.3" x2="349.6" y2="393.3" stroke="#555" stroke-width="1" />
<rect x="325.6" y="393.6" width="20.7" height="13.8" rx="0.8" stroke="#666" stroke-width="1" fill="none" />
<line x1="325.6" y1="402.8" x2="346.3" y2="402.8" stroke="#666" stroke-width="1" />
<line x1="348.3" y1="393.6" x2="348.3" y2="407.4" stroke="#999" stroke-width="1" />
<rect x="350.4" y="342" width="6.6" height="2.6" fill="#c4c4c4"/>
<rect x="350.4" y="390.6" width="6.6" height="2.6" fill="#c4c4c4"/>
<rect x="357.4" y="358.6" width="17.3" height="2.6" fill="#777"/>
<rect x="357.4" y="369.8" width="17.3" height="3.0" fill="#b8b8b8"/>
<path d="M357.1,341.3 V353.6 H374.7" stroke="#555" stroke-width="1" fill="none" />
<path d="M374.7,358.3 H357.1 V373.4 H374.7" stroke="#555" stroke-width="1" fill="none" />
<path d="M374.7,378.3 H357.1 V393" stroke="#555" stroke-width="1" fill="none" />
<rect x="359.2" y="347.2" width="13.6" height="3.4" rx="0.4" stroke="#555" stroke-width="1" fill="#9a9a9a" />
<rect x="361.6" y="348.2" width="2" height="1.4" fill="#ddd"/>
<rect x="364.6" y="348.2" width="2" height="1.4" fill="#ddd"/>
<rect x="369.1" y="348.2" width="1.6" height="1.4" fill="#ddd"/>
<rect x="359.2" y="384.4" width="11.6" height="3.8" rx="1.8" stroke="#555" stroke-width="1" fill="#a8a8a8" />
<rect x="362.1" y="385.8" width="6" height="1" fill="#e0e0e0"/>
<rect x="371.2" y="384.4" width="2.6" height="3.8" fill="#bbb"/>
<line x1="374.7" y1="341.3" x2="374.7" y2="393.3" stroke="#555" stroke-width="1" />
<rect x="350.5" y="393.6" width="20.9" height="13.8" rx="0.8" stroke="#666" stroke-width="1" fill="none" />
<line x1="350.5" y1="402.8" x2="371.4" y2="402.8" stroke="#666" stroke-width="1" />
<line x1="373.4" y1="393.6" x2="373.4" y2="407.4" stroke="#999" stroke-width="1" />
<rect x="375.2" y="341.8" width="11.8" height="2.8" fill="#c4c4c4"/>
<rect x="375.2" y="389.8" width="11.8" height="2.8" fill="#c4c4c4"/>
<line x1="385.2" y1="344" x2="385.2" y2="390" stroke="#aaa" stroke-width="1" />
<path d="M249.5,393.3 V342.4 Q249.5,341.1 250.8,341.1 H386.3 Q387.6,341.1 387.6,342.4 V393.3 H249.5" stroke="#555" stroke-width="1" fill="none" />
<path d="M303,340 C305,350 304.5,362 306,376 C307,388 307.5,400 308,410 L313,410 C312.5,400 312.5,390 312,378 C310.5,362 309.5,350 309.5,340 Z" stroke="none" stroke-width="0" fill="#fff" />
<path d="M302.8,350 C304,360 305,370 306.2,380 C307,390 308,400 308,408" stroke="#aaa" stroke-width="0.8" fill="none" stroke-dasharray="3 1.5 1 1.5"/>
<path d="M307.9,350 C309,360 311,370 312,380 C312.5,390 312.5,400 312.5,408" stroke="#aaa" stroke-width="0.8" fill="none" stroke-dasharray="3 1.5 1 1.5"/>
</svg></body></html>
